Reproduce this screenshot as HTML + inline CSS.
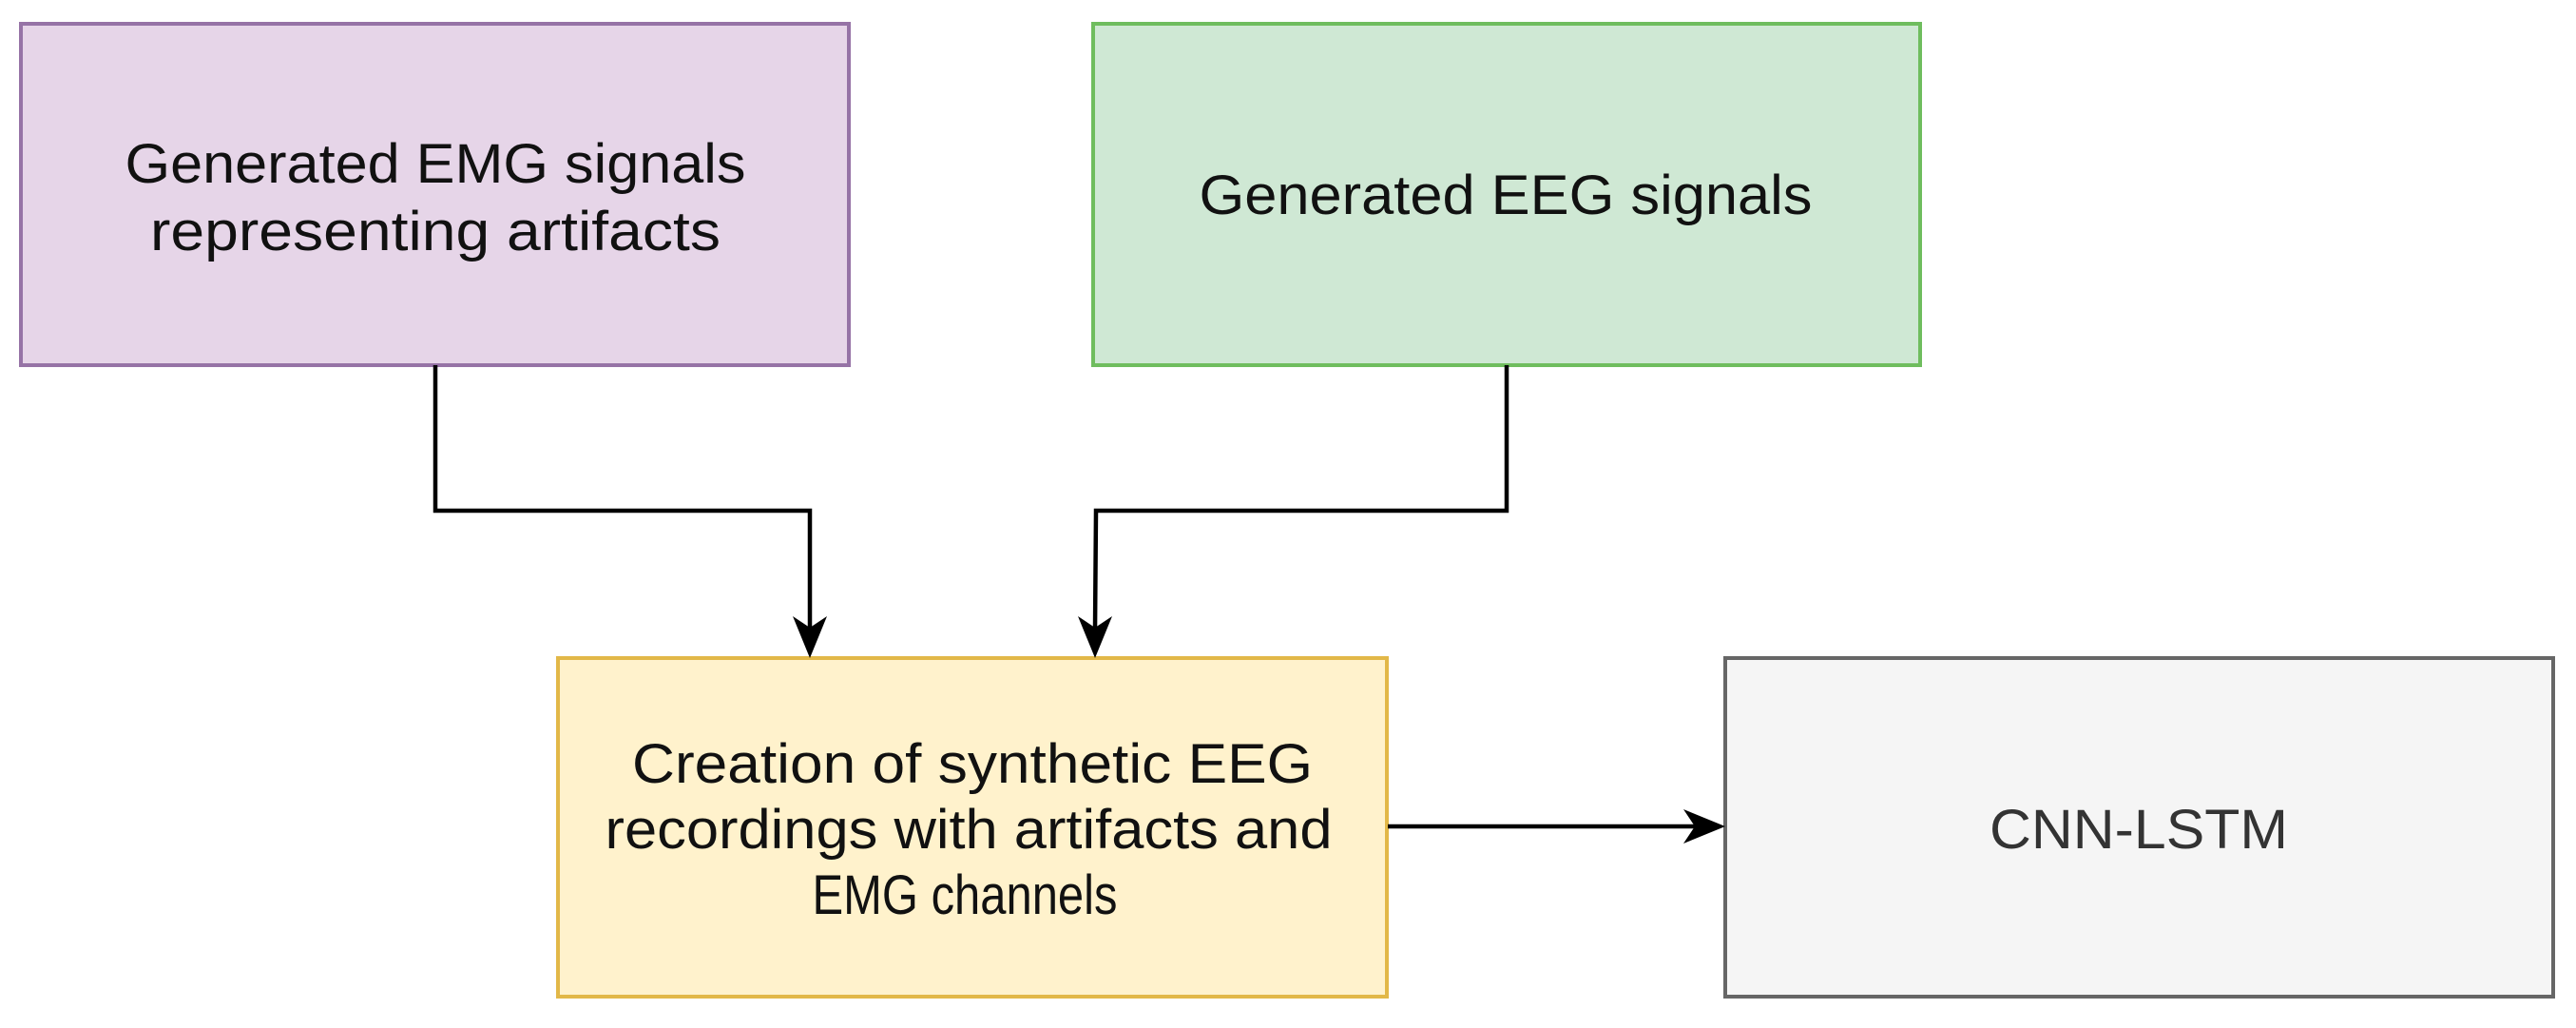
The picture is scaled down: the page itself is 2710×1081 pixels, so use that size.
<!DOCTYPE html>
<html><head><meta charset="utf-8"><style>html,body{margin:0;padding:0;background:#fff}svg{display:block}</style></head>
<body>
<svg width="2710" height="1081" viewBox="0 0 2710 1081" xmlns="http://www.w3.org/2000/svg" font-family="Liberation Sans, Arial, sans-serif">
<rect x="0" y="0" width="2710" height="1081" fill="#fff"/>
<rect x="22" y="25" width="871" height="359" fill="#e6d5e8" stroke="#9673a6" stroke-width="4"/>
<rect x="1150" y="25" width="870" height="359" fill="#cfe8d4" stroke="#6fbd5e" stroke-width="4"/>
<rect x="587" y="692" width="872" height="356" fill="#fff2cc" stroke="#e2b848" stroke-width="4"/>
<rect x="1815" y="692" width="871" height="356" fill="#f5f5f5" stroke="#666" stroke-width="4"/>
<g fill="none" stroke="#000" stroke-width="4.5">
<polyline points="458,384 458,537 852,537 852,662"/>
<polyline points="1585,384 1585,537 1153,537 1152,662"/>
<line x1="1460" y1="869" x2="1785" y2="869"/>
</g>
<g fill="#000">
<path d="M852,692 L834,648 L852,660 L870,648 Z"/>
<path d="M1152,692 L1134,648 L1152,660 L1170,648 Z"/>
<path d="M1815,869 L1771,851 L1783,869 L1771,887 Z"/>
</g>
<g font-size="58" text-anchor="middle" fill="#111">
<text x="458" y="192" textLength="653" lengthAdjust="spacingAndGlyphs">Generated EMG signals</text>
<text x="458" y="263" textLength="600" lengthAdjust="spacingAndGlyphs">representing artifacts</text>
<text x="1584" y="225" textLength="645" lengthAdjust="spacingAndGlyphs">Generated EEG signals</text>
<text x="1023" y="823" textLength="716" lengthAdjust="spacingAndGlyphs">Creation of synthetic EEG</text>
<text x="1019" y="892" textLength="765" lengthAdjust="spacingAndGlyphs">recordings with artifacts and</text>
<text x="1015" y="961" textLength="321" lengthAdjust="spacingAndGlyphs">EMG channels</text>
<text x="2250" y="892" fill="#333" textLength="314" lengthAdjust="spacingAndGlyphs">CNN-LSTM</text>
</g>
</svg>
</body></html>
